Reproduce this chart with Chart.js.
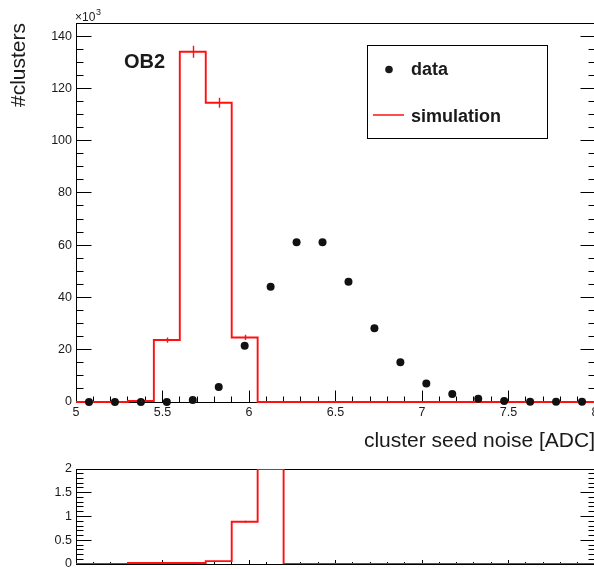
<!DOCTYPE html>
<html>
<head>
<meta charset="utf-8">
<script src="https://cdn.jsdelivr.net/npm/chart.js@4.4.1/dist/chart.umd.min.js"></script>
<style>
  html, body { margin: 0; padding: 0; background: #fff; overflow: hidden; width: 594px; height: 569px; }
  canvas { position: absolute; left: 0; }
  #main { top: 0; }
  #ratio { top: 460px; }
</style>
</head>
<body>
<canvas id="main" width="600" height="460"></canvas>
<canvas id="ratio" width="600" height="120"></canvas>
<script>
// bin centres of cluster seed noise [ADC], bin width 0.15
const binCenters = [5.075, 5.225, 5.375, 5.525, 5.675, 5.825, 5.975, 6.125, 6.275, 6.425,
                    6.575, 6.725, 6.875, 7.025, 7.175, 7.325, 7.475, 7.625, 7.775, 7.925];
// counts in units of 10^3
const dataCounts = [0, 0, 0, 0, 0.8, 5.7, 21.5, 44.1, 61.1, 61.1,
                    46, 28.2, 15.2, 7.1, 3.1, 1.2, 0.4, 0.1, 0.05, 0.1];
const simCounts = [0, 0, 0.4, 23.7, 134, 114.5, 24.7, 0.02, 0, 0,
                   0, 0, 0, 0, 0, 0, 0, 0, 0, 0];
const simErrors = [0, 0, 0.1, 1, 2.3, 1.9, 1, 0, 0, 0,
                   0, 0, 0, 0, 0, 0, 0, 0, 0, 0];
// data / simulation (drawn clipped at 2)
const ratioValues = [0, 0, 0.02, 0.02, 0.02, 0.06, 0.89, 2, 0, 0,
                     0, 0, 0, 0, 0, 0, 0, 0, 0, 0];
const ratioErrors = [0, 0, 0, 0, 0, 0.003, 0.02, 0, 0, 0,
                     0, 0, 0, 0, 0, 0, 0, 0, 0, 0];

const xTicks = [5, 5.5, 6, 6.5, 7, 7.5, 8];
const yTicks = [0, 20, 40, 60, 80, 100, 120, 140];
const ratioTicks = [0, 0.5, 1, 1.5, 2];

const FONT = "'Liberation Sans', Arial, Helvetica, sans-serif";
const RED = '#ff1010';
Chart.defaults.font.family = FONT;
Chart.defaults.color = '#1a1a1a';

const half = (binCenters[1] - binCenters[0]) / 2;
function stepPoints(vals) {
  const pts = binCenters.map((c, i) => ({x: c - half, y: vals[i]}));
  pts.push({x: binCenters[binCenters.length - 1] + half, y: vals[vals.length - 1]});
  return pts;
}

// ROOT style frame with inward ticks
const rootFrame = {
  id: 'rootFrame',
  beforeDatasetsDraw(chart, args, o) {
    const {ctx, chartArea: a, scales: {x, y}} = chart;
    const L = Math.floor(a.left) + 0.5, B = Math.floor(a.bottom) + 0.5;
    const T = Math.floor(a.top) + 0.5, R = Math.floor(a.right) + 0.5;
    ctx.save();
    ctx.strokeStyle = '#000';
    ctx.lineWidth = 1;
    ctx.beginPath();
    const nx = Math.round((x.max - x.min) / o.xMinor);
    for (let i = 1; i < nx; i++) {
      const px = Math.floor(x.getPixelForValue(x.min + i * o.xMinor)) + 0.5;
      const len = i % o.xEvery === 0 ? o.xMajorLen : o.xMinorLen;
      ctx.moveTo(px, B); ctx.lineTo(px, B - len);
    }
    const ny = Math.round((y.max - y.min) / o.yMinor);
    for (let i = 1; i < ny; i++) {
      const py = Math.floor(y.getPixelForValue(y.min + i * o.yMinor)) + 0.5;
      const len = i % o.yEvery === 0 ? o.yMajorLen : o.yMinorLen;
      ctx.moveTo(L, py); ctx.lineTo(L + len, py);
      ctx.moveTo(R, py); ctx.lineTo(R - len, py);
    }
    ctx.stroke();
    ctx.strokeRect(L, T, R - L, B - T);
    ctx.restore();
  }
};

// vertical error bars at bin centres
const errorBars = {
  id: 'errorBars',
  afterDatasetsDraw(chart, args, o) {
    const {ctx, scales: {x, y}} = chart;
    ctx.save();
    ctx.strokeStyle = RED;
    ctx.lineWidth = 1.4;
    ctx.beginPath();
    o.values.forEach((v, i) => {
      const e = o.errors[i];
      if (!e) return;
      const px = Math.round(x.getPixelForValue(binCenters[i])) + 0.5;
      ctx.moveTo(px, y.getPixelForValue(v - e));
      ctx.lineTo(px, y.getPixelForValue(v + e));
    });
    ctx.stroke();
    ctx.restore();
  }
};

// legend, OB2 label and x10^3 exponent
const decorations = {
  id: 'decorations',
  afterDraw(chart) {
    const {ctx, chartArea: a} = chart;
    ctx.save();
    ctx.fillStyle = '#1a1a1a';
    ctx.textBaseline = 'alphabetic';
    ctx.font = '12px ' + FONT;
    ctx.fillText('\u00d710', a.left - 1, 21);
    ctx.font = '9px ' + FONT;
    ctx.fillText('3', a.left + 20, 15);

    ctx.font = 'bold 20px ' + FONT;
    ctx.fillText('OB2', 124, 68);

    // legend box
    ctx.strokeStyle = '#000';
    ctx.lineWidth = 1;
    ctx.fillStyle = '#fff';
    ctx.fillRect(367.5, 45.5, 180, 93);
    ctx.strokeRect(367.5, 45.5, 180, 93);
    ctx.fillStyle = '#1a1a1a';
    ctx.beginPath();
    ctx.arc(389, 69.5, 3.8, 0, Math.PI * 2);
    ctx.fill();
    ctx.strokeStyle = RED;
    ctx.lineWidth = 1.5;
    ctx.beginPath();
    ctx.moveTo(373, 115); ctx.lineTo(404, 115);
    ctx.stroke();
    ctx.font = 'bold 18px ' + FONT;
    ctx.fillText(chart.data.datasets[0].label, 411, 75);
    ctx.fillText(chart.data.datasets[1].label, 411, 122);
    ctx.restore();
  }
};

new Chart(document.getElementById('main'), {
  type: 'scatter',
  data: {
    datasets: [
      {
        label: 'data',
        data: binCenters.map((c, i) => ({x: c, y: dataCounts[i]})),
        pointRadius: 4,
        pointBackgroundColor: '#111',
        pointBorderWidth: 0,
        clip: false
      },
      {
        label: 'simulation',
        data: stepPoints(simCounts),
        showLine: true,
        stepped: true,
        borderColor: RED,
        borderWidth: 1.9,
        pointRadius: 0,
        clip: 2
      }
    ]
  },
  options: {
    responsive: false,
    animation: false,
    devicePixelRatio: 1,
    layout: {padding: {top: 23, right: 5, left: 0, bottom: 0}},
    plugins: {
      legend: {display: false},
      tooltip: {enabled: false},
      rootFrame: {xMinor: 0.1, xEvery: 5, xMajorLen: 12, xMinorLen: 6,
                  yMinor: 5, yEvery: 4, yMajorLen: 15, yMinorLen: 7},
      errorBars: {values: simCounts, errors: simErrors}
    },
    scales: {
      x: {
        type: 'linear', min: 5, max: 8,
        grid: {display: false, drawTicks: false},
        border: {display: false},
        afterBuildTicks: s => { s.ticks = xTicks.map(v => ({value: v})); },
        afterFit: s => { s.height = 58; s.paddingLeft = 0; s.paddingRight = 0; },
        ticks: {font: {size: 12.5}, padding: 3, maxRotation: 0, autoSkip: false, callback: v => String(v)},
        title: {display: true, text: 'cluster seed noise [ADC]', align: 'end',
                font: {size: 21}, color: '#1a1a1a', padding: {top: 0, bottom: 5.7}}
      },
      y: {
        type: 'linear', min: 0, max: 145,
        grid: {display: false, drawTicks: false},
        border: {display: false},
        afterBuildTicks: s => { s.ticks = yTicks.map(v => ({value: v})); },
        afterFit: s => { s.width = 76; s.paddingTop = 0; s.paddingBottom = 0; },
        ticks: {font: {size: 12.5}, padding: 4, autoSkip: false, callback: v => String(v)},
        title: {display: true, text: '#clusters', align: 'end',
                font: {size: 21}, color: '#1a1a1a', padding: {top: 7, bottom: 0}}
      }
    }
  },
  plugins: [rootFrame, errorBars, decorations]
});

new Chart(document.getElementById('ratio'), {
  type: 'scatter',
  data: {
    datasets: [
      {
        label: 'data / simulation',
        data: stepPoints(ratioValues),
        showLine: true,
        stepped: true,
        borderColor: RED,
        borderWidth: 1.9,
        pointRadius: 0
      }
    ]
  },
  options: {
    responsive: false,
    animation: false,
    devicePixelRatio: 1,
    layout: {padding: {top: 9, right: 5, left: 0, bottom: 16}},
    plugins: {
      legend: {display: false},
      tooltip: {enabled: false},
      rootFrame: {xMinor: 0.1, xEvery: 5, xMajorLen: 4.5, xMinorLen: 2.5,
                  yMinor: 0.1, yEvery: 5, yMajorLen: 15, yMinorLen: 7},
      errorBars: {values: ratioValues, errors: ratioErrors}
    },
    scales: {
      x: {type: 'linear', min: 5, max: 8, display: false},
      y: {
        type: 'linear', min: 0, max: 2,
        grid: {display: false, drawTicks: false},
        border: {display: false},
        afterBuildTicks: s => { s.ticks = ratioTicks.map(v => ({value: v})); },
        afterFit: s => { s.width = 76; s.paddingTop = 0; s.paddingBottom = 0; },
        ticks: {font: {size: 12.5}, padding: 4, autoSkip: false, callback: v => String(v)}
      }
    }
  },
  plugins: [rootFrame, errorBars]
});
</script>
</body>
</html>
